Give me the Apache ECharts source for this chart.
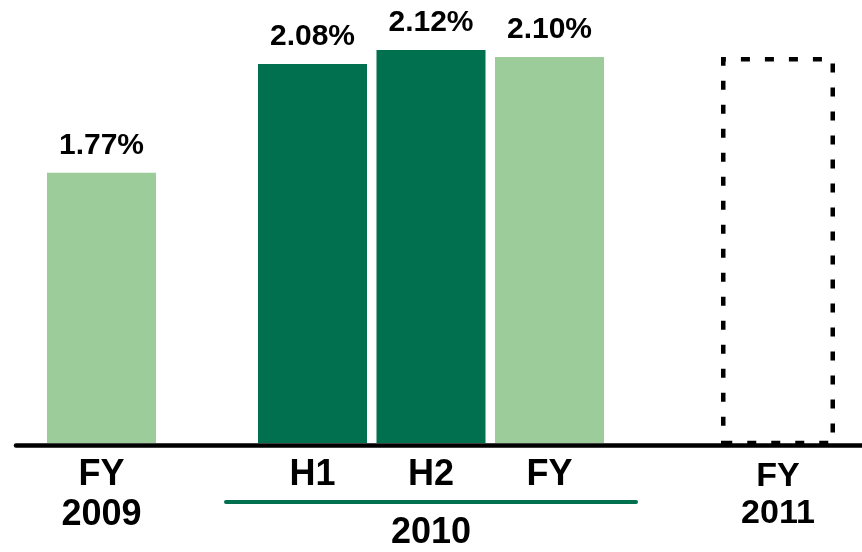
<!DOCTYPE html>
<html>
<head>
<meta charset="utf-8">
<script src="https://cdn.jsdelivr.net/npm/echarts@6/dist/echarts.min.js"></script>
<style>
  html, body { margin: 0; padding: 0; background: #fff; }
  #chart { width: 862px; height: 552px; }
</style>
</head>
<body>
<div id="chart"></div>
<script>
const cats2009 = ['FY\n2009'];
const cats2010 = ['H1', 'H2', 'FY'];
const cats2011 = ['FY\n2011'];
const groupLabel = ['2010'];
const vals2009 = [1.77];
const vals2010 = [2.08, 2.12, 2.10];
const vals2011 = [2.10]; // 占位虚线框

const dark = '#00704f';
const light = '#9ccc9a';
const font = "'Liberation Sans', Arial, sans-serif";

const yMin = 1, yMax = 2.2;
const barTop = 22, barBottom = 109;

const valueLabel = {
  show: true,
  position: 'top',
  distance: 12,
  color: '#000',
  fontFamily: font,
  fontWeight: 'bold',
  fontSize: 30,
  lineHeight: 30,
  formatter: (p) => p.value.toFixed(2) + '%',
};

const catAxis = (gridIndex, data, extra) => ({
  type: 'category',
  gridIndex,
  data,
  axisLine: { show: false },
  axisTick: { show: false },
  axisLabel: Object.assign({
    color: '#000',
    fontFamily: font,
    fontWeight: 'bold',
    fontSize: 36,
    lineHeight: 40,
    margin: 12,
    interval: 0,
  }, extra || {}),
});

const valAxis = (gridIndex) => ({
  type: 'value',
  gridIndex,
  min: yMin,
  max: yMax,
  show: false,
});

const chart = echarts.init(document.getElementById('chart'));
chart.setOption({
  animation: false,
  grid: [
    { left: 40, width: 123, top: barTop, bottom: barBottom },
    { left: 253.25, width: 355.5, top: barTop, bottom: barBottom },
    { left: 718.5, width: 119, top: barTop, bottom: barBottom },
    // 底部黑色横轴
    { left: 16, right: 0, bottom: 106.5, height: 10 },
    // 2010 分组绿线
    { left: 226, width: 410, bottom: 43, height: 10 },
  ],
  xAxis: [
    catAxis(0, cats2009),
    catAxis(1, cats2010),
    catAxis(2, cats2011, { fontSize: 34, lineHeight: 37, margin: 15 }),
    {
      type: 'category', gridIndex: 3, data: [''],
      axisLine: { lineStyle: { color: '#000', width: 4.5 } },
      axisTick: { show: false }, axisLabel: { show: false },
    },
    {
      type: 'category', gridIndex: 4, data: groupLabel,
      axisLine: { lineStyle: { color: dark, width: 4 } },
      axisTick: { show: false },
      axisLabel: {
        color: '#000', fontFamily: font, fontWeight: 'bold',
        fontSize: 36, lineHeight: 40, margin: 12,
      },
    },
  ],
  yAxis: [valAxis(0), valAxis(1), valAxis(2), valAxis(3), valAxis(4)],
  series: [
    {
      type: 'bar', xAxisIndex: 0, yAxisIndex: 0, barWidth: 109,
      data: vals2009,
      itemStyle: { color: light },
      label: valueLabel,
      z: 3,
    },
    {
      type: 'bar', xAxisIndex: 1, yAxisIndex: 1, barWidth: 109,
      data: vals2010.map((v, i) => ({
        value: v,
        itemStyle: { color: i < 2 ? dark : light },
      })),
      label: valueLabel,
      z: 3,
    },
    {
      type: 'bar', xAxisIndex: 2, yAxisIndex: 2, barWidth: 114,
      data: vals2011,
      itemStyle: {
        color: 'rgba(0,0,0,0)',
        borderColor: '#000',
        borderWidth: 4.5,
        borderType: [9, 15],
      },
      z: 3,
    },
  ],
});
</script>
</body>
</html>
